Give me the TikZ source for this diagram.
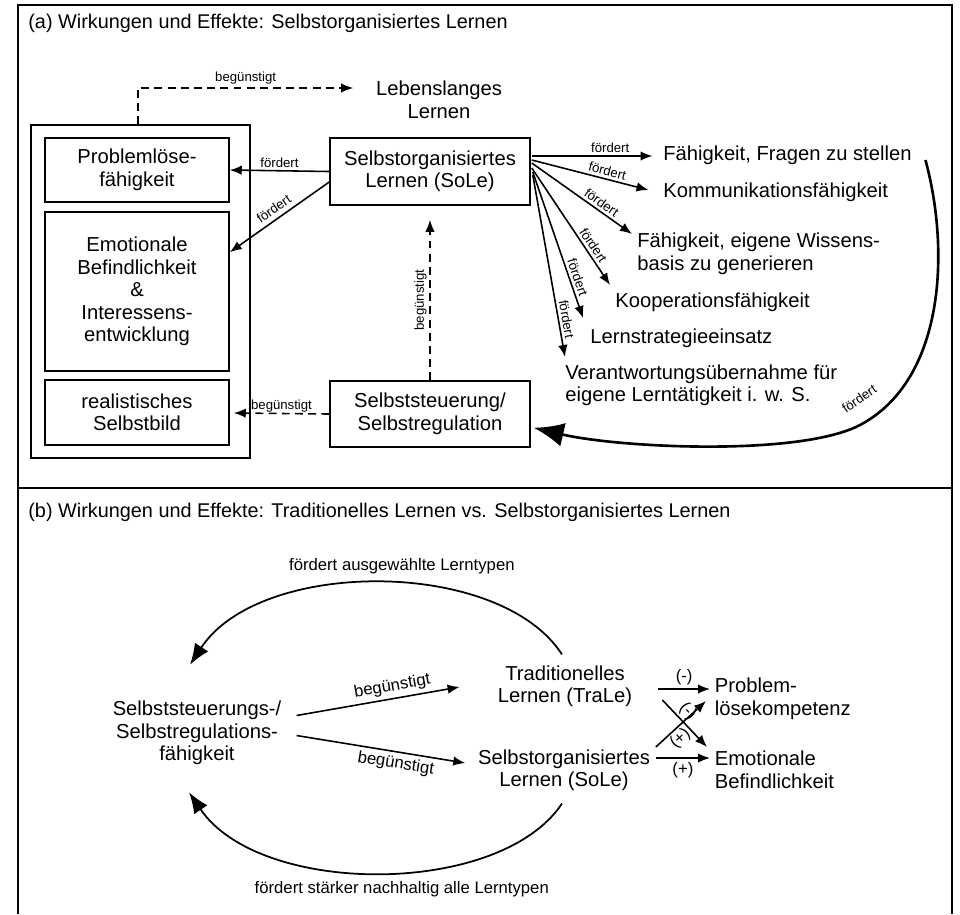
\documentclass[tikz,border=0pt]{standalone}
\usepackage{fontspec}
\setmainfont{Liberation Sans}
\usetikzlibrary{calc,arrows.meta}

\begin{document}
\begin{tikzpicture}[x=0.02cm, y=-0.02cm, font=\fontsize{11.5}{12.8}\selectfont,
  every node/.style={inner sep=2pt},
  box/.style={draw, line width=0.9pt, align=center},
  txt/.style={align=left},
  hdr/.style={font=\fontsize{11.3}{13}\selectfont, inner sep=0pt, anchor=west},
  lbl/.style={font=\fontsize{7.5}{9}\selectfont, inner sep=1.5pt},
  lblb/.style={font=\fontsize{9.5}{11}\selectfont, inner sep=2pt},
  arr/.style={-{Latex[length=2.4mm,width=1.9mm]}, line width=0.9pt},
  dsh/.style={arr, dash pattern=on 4.5pt off 3pt},
  looparr/.style={-{Latex[length=4.2mm,width=3.2mm]}, line width=1pt},
  bigarr/.style={-{Latex[length=6mm,width=4.8mm]}, line width=1.5pt}]
  \useasboundingbox (0,0) rectangle (960,914);
  \draw[line width=0.8pt] (18,914) -- (18,5) -- (952,5) -- (952,914);
  \draw[line width=0.8pt] (18,488) -- (952,488);
  \node[hdr] (capA) at (28,23) {(a) Wirkungen und Effekte: Selbstorganisiertes Lernen};
  \node[hdr] (capB) at (28,512) {(b) Wirkungen und Effekte: Traditionelles Lernen vs. Selbstorganisiertes Lernen};

  \node[box, minimum width=4.38cm, minimum height=6.66cm] (grp) at (140.5,291.5) {};
  \node[box, minimum width=3.68cm, minimum height=1.28cm] (pl) at (137,170) {Problemlöse-\\fähigkeit};
  \node[box, minimum width=3.68cm, minimum height=3.18cm] (em) at (137,291.5) {Emotionale\\Befindlichkeit\\\&\\Interessens-\\entwicklung};
  \node[box, minimum width=3.68cm, minimum height=1.30cm] (rs) at (137,412.5) {realistisches\\Selbstbild};
  \node[box, minimum width=4cm, minimum height=1.34cm] (sole) at (430,171.5) {Selbstorganisiertes\\Lernen (SoLe)};
  \node[box, minimum width=4cm, minimum height=1.32cm] (sest) at (430,414) {Selbststeuerung/\\Selbstregulation};
  \node[align=center] (lll) at (439,100) {Lebenslanges\\Lernen};
  \coordinate (knick) at (138,88);

  \node[txt, anchor=west] (t1) at (659.5,155) {Fähigkeit, Fragen zu stellen};
  \node[txt, anchor=west] (t2) at (659.5,192) {Kommunikationsfähigkeit};
  \node[txt, anchor=west] (t3) at (633.5,254) {Fähigkeit, eigene Wissens-\\basis zu generieren};
  \node[txt, anchor=west] (t4) at (611.5,302) {Kooperationsfähigkeit};
  \node[txt, anchor=west] (t5) at (586.5,338) {Lernstrategieeinsatz};
  \node[txt, anchor=west] (t6) at (561.5,385.5) {Verantwortungsübernahme für\\eigene Lerntätigkeit i. w. S.};

  \draw[dsh] (knick |- grp.north) -- (knick) -- node[above, lbl] {begünstigt} ($(knick -| lll.west)+(-19,0)$);
  \draw[arr] (sole.west) -- node[above, lbl] {fördert} (pl.east);
  \draw[arr] ($(sole.west)+(0,10.5)$) -- node[sloped, above=1pt, lbl] {fördert} ($(em.north east)+(0,41)$);
  \draw[dsh] (sest.north) -- node[sloped, above, lbl] {begünstigt} ($(sole.south)+(0,14)$);
  \draw[dsh] (sest.west) -- node[above, lbl, inner sep=0.5pt] {begünstigt} ($(rs.east)+(4,0.5)$);

  \draw[arr] ($(sole.east)+(1,-15.5)$) -- node[pos=0.65, above, lbl] {fördert} ($(t1.west)+(-7,1)$);
  \draw[arr] ($(sole.east)+(1,-11.5)$) -- node[pos=0.63, sloped, above, lbl] {fördert} ($(t2.west)+(-11,-2)$);
  \draw[arr] ($(sole.east)+(1,-8.5)$) -- node[pos=0.65, sloped, above, lbl] {fördert} ($(t3.west)+(-1.5,-20)$);
  \draw[arr] ($(sole.east)+(1,-3.5)$) -- node[pos=0.7, sloped, above, lbl] {fördert} ($(t4.west)+(-1.5,-17)$);
  \draw[arr] ($(sole.east)+(2,0.5)$) -- node[pos=0.74, sloped, above, lbl] {fördert} ($(t5.west)+(-3.5,-20)$);
  \draw[arr] ($(sole.east)+(2,3.5)$) -- node[pos=0.8, sloped, above, lbl] {fördert} ($(t6.west)+(3.5,-28.5)$);
  \draw[bigarr] ($(t1.east)+(10,5)$) .. controls (950,250) and (945,380) .. node[pos=0.95, sloped, above=8pt, lbl] {fördert} (860,425)
    .. controls (800,456.5) and (620,448) .. ($(sest.south east)+(3,-20)$);

  \node[align=center] (ssf) at (197,733) {Selbststeuerungs-/\\Selbstregulations-\\fähigkeit};
  \node[align=center] (tra) at (565,686) {Traditionelles\\Lernen (TraLe)};
  \node[align=center] (sol) at (564,770) {Selbstorganisiertes\\Lernen (SoLe)};
  \node[txt, anchor=west] (pk) at (711,699) {Problem-\\lösekompetenz};
  \node[txt, anchor=west] (ebf) at (711,770) {Emotionale\\Befindlichkeit};

  \draw[looparr] ($(tra.north)+(-3,-7)$) .. controls (500,558) and (260,558) .. node[pos=0.45, above=3pt, lblb] {fördert ausgewählte Lerntypen} ($(ssf.north)+(-7,-32.5)$);
  \draw[looparr] ($(sol.south)+(-2,9)$) .. controls (500,897) and (260,897) .. node[pos=0.45, below=3pt, lblb] {fördert stärker nachhaltig alle Lerntypen} ($(ssf.south)+(-8,23.5)$);
  \draw[arr] ($(ssf.east)+(11.5,-17.5)$) -- node[pos=0.6, sloped, above, lblb] {begünstigt} ($(tra.west)+(-34.5,1)$);
  \draw[arr] ($(ssf.east)+(11.5,2.5)$) -- node[pos=0.6, sloped, below, lblb] {begünstigt} ($(sol.west)+(-9,-7)$);

  \draw[arr] ($(tra.east)+(22.5,3)$) -- node[above, lblb] {(-)} ($(pk.west)+(-1,-10)$);
  \draw[arr] ($(tra.east)+(26.5,14)$) -- node[pos=0.4, sloped, above, lblb, inner sep=1pt] {(-)} ($(ebf.west)+(-4,-23)$);
  \draw[arr] ($(sol.east)+(2,-23)$) -- node[pos=0.35, sloped, below, lblb, inner sep=1pt] {(+)} ($(pk.west)+(-5,2)$);
  \draw[arr] ($(sol.east)+(2,-12)$) -- node[below, lblb] {(+)} ($(ebf.west)+(-1,-12)$);
\end{tikzpicture}
\end{document}
